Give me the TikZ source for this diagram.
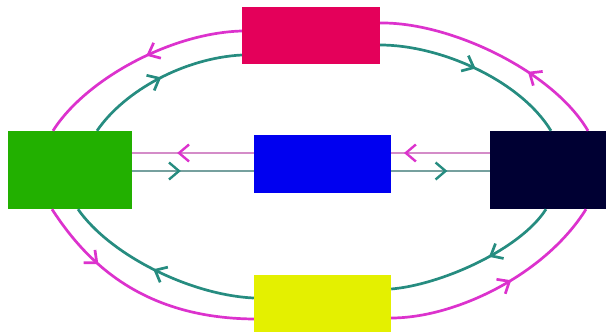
\documentclass[tikz,border=0pt]{standalone}
\usetikzlibrary{arrows.meta,decorations.markings}
\definecolor{boxred}{RGB}{228,0,90}
\definecolor{boxgreen}{RGB}{34,176,0}
\definecolor{boxblue}{RGB}{0,0,240}
\definecolor{boxnavy}{RGB}{0,0,51}
\definecolor{boxyellow}{RGB}{228,240,0}
\definecolor{loopmag}{RGB}{220,50,205}
\definecolor{loopteal}{RGB}{38,140,128}
\definecolor{midmag}{RGB}{212,140,200}
\definecolor{midteal}{RGB}{118,160,158}
\tikzset{
  block/.style={rectangle, draw=none, inner sep=0pt},
  chevron/.style 2 args={decoration={markings, mark=at position #1 with {\arrow[#2]{Straight Barb[length=10pt,width=17pt]}}}, postaction={decorate}},
  magline/.style={draw=loopmag, line width=2.7pt},
  tealline/.style={draw=loopteal, line width=2.7pt},
  midmagline/.style={draw=midmag, line width=2.4pt},
  midtealline/.style={draw=midteal, line width=2.4pt}
}

\begin{document}
\begin{tikzpicture}[x=1pt, y=-1pt]
  \useasboundingbox (0,0) rectangle (606,332);
  \clip (0,0) rectangle (606,332);
  % the five blocks
  \node[block, fill=boxred, minimum width=138pt, minimum height=57pt] (red) at (311,35.5) {};
  \node[block, fill=boxgreen, minimum width=124pt, minimum height=78pt] (green) at (70,170) {};
  \node[block, fill=boxblue, minimum width=137pt, minimum height=58pt] (blue) at (322.5,164) {};
  \node[block, fill=boxnavy, minimum width=122pt, minimum height=78pt] (navy) at (551,170) {};
  \node[block, fill=boxyellow, minimum width=137pt, minimum height=62pt] (yellow) at (322.5,306) {};

  % magenta loop
  \draw[magline, chevron={0.35}{loopmag}] ([xshift=37pt]navy.north) .. controls (553,71) and (450,22) .. ([yshift=12.5pt]red.east);
  \draw[magline, chevron={0.45}{loopmag}] ([yshift=4.5pt]red.west) .. controls (170,33) and (85,80) .. ([xshift=-17pt]green.north);
  \draw[magline, chevron={0.3}{loopmag}] ([xshift=-18pt]green.south) .. controls (85,260) and (140,318) .. ([yshift=-13pt]yellow.west);
  \draw[magline, chevron={0.55}{loopmag}] ([yshift=-12pt]yellow.east) .. controls (455,318) and (545,275) .. ([xshift=35pt]navy.south);
  \draw[midmagline, chevron={0.87}{loopmag}] ([yshift=17pt]navy.west) -- ([yshift=11pt]blue.east);
  \draw[midmagline, chevron={0.63}{loopmag}] ([yshift=11pt]blue.west) -- ([yshift=17pt]green.east);

  % teal loop
  \draw[tealline, chevron={0.5}{loopteal}] ([xshift=27pt]green.north) .. controls (125,90) and (185,58) .. ([yshift=-19.5pt]red.west);
  \draw[tealline, chevron={0.5}{loopteal}] ([yshift=-9.5pt]red.east) .. controls (440,45) and (520,80) .. (navy.north);
  \draw[tealline, chevron={0.42}{loopteal}] ([xshift=-5pt]navy.south) .. controls (520,250) and (440,285) .. ([yshift=17pt]yellow.east);
  \draw[tealline, chevron={0.52}{loopteal}] ([yshift=8pt]yellow.west) .. controls (190,295) and (110,255) .. ([xshift=8pt]green.south);
  \draw[midtealline, chevron={0.4}{loopteal}] ([yshift=-1pt]green.east) -- ([yshift=-7pt]blue.west);
  \draw[midtealline, chevron={0.57}{loopteal}] ([yshift=-7pt]blue.east) -- ([yshift=-1pt]navy.west);
\end{tikzpicture}
\end{document}
